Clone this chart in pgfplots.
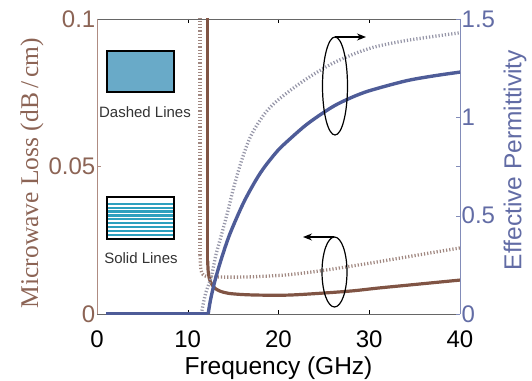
\documentclass[border=0pt]{standalone}
\usepackage{fontspec}
\setmainfont{Liberation Sans}
\newfontfamily\seriffont{Liberation Serif}
\usepackage{pgfplots}
\pgfplotsset{compat=1.18}
\usetikzlibrary{arrows.meta}

\definecolor{lossc}{RGB}{128,84,68}
\definecolor{losslab}{RGB}{140,100,85}
\definecolor{lossax}{RGB}{175,140,130}
\definecolor{permc}{RGB}{78,92,152}
\definecolor{permlab}{RGB}{98,108,165}
\definecolor{permax}{RGB}{130,140,185}
\definecolor{lossdot}{RGB}{160,135,128}
\definecolor{permdot}{RGB}{150,150,168}
\definecolor{boxfill}{RGB}{105,170,200}
\definecolor{stripe}{RGB}{45,160,190}

\begin{document}
\begin{tikzpicture}[x=1pt,y=1pt]
\pgfplotsset{
  common/.style={
    at={(97pt,66pt)}, anchor=south west,
    scale only axis, width=363pt, height=295pt,
    xmin=0, xmax=40,
    tick align=inside, major tick length=4pt,
    /pgf/number format/assume math mode=true,
    ticklabel style={font=\fontsize{24}{24}\selectfont},
    label style={font=\fontsize{24.5}{26}\selectfont},
  },
  dotsty/.style={line width=3.3pt, dash pattern=on 1.2pt off 2pt},
}
\begin{axis}[common,
  ymin=0, ymax=0.1,
  axis x line*=box, axis y line*=left,
  x axis line style={draw=gray!80!black, line width=0.9pt},
  y axis line style={draw=lossax, line width=0.9pt},
  xtick={0,10,20,30,40}, xticklabels={0,10,20,30,40},
  ytick={0,0.05,0.1}, yticklabels={0,0.05,0.1},
  xtick style={draw=black},
  ytick style={draw=lossax},
  yticklabel style={text=losslab, inner sep=1.5pt},
  xticklabel style={yshift=-13pt},
  xlabel={Frequency (GHz)},
  xlabel style={at={(axis description cs:0.5,-0.185)}, anchor=center},
]
\addplot[lossdot, dotsty] coordinates {(11.35,0.12) (11.35,0.02)};
\addplot[lossdot, dotsty, smooth, tension=0.5] coordinates {
 (11.35,0.02) (11.45,0.015) (11.7,0.0133) (12.3,0.0127)
 (14,0.0125) (17,0.0126) (21,0.0133) (25,0.0148) (30,0.0172) (35,0.0198) (40,0.0224)};
\addplot[lossc, line width=3.2pt] coordinates {(12.2,0.12) (12.2,0.018)};
\addplot[lossc, line width=3.2pt, smooth, tension=0.5] coordinates {
 (12.2,0.018) (12.25,0.0145) (12.4,0.0118) (12.7,0.0098) (13.0,0.0087)
 (13.6,0.0077) (14.5,0.0070) (16,0.0066) (18,0.0064) (21,0.0064) (24,0.0069)
 (28,0.0078) (31,0.0088) (34,0.0097) (37,0.0106) (40,0.0115)};
\end{axis}
\begin{axis}[common,
  ymin=0, ymax=1.5,
  axis x line=none, axis y line*=right,
  y axis line style={draw=permax, line width=0.9pt},
  ytick={0,0.5,1,1.5}, yticklabels={0,0.5,1,1.5},
  extra y ticks={0.75}, extra y tick labels={},
  ytick style={draw=permax},
  yticklabel style={text=permlab, inner sep=1.5pt},
]
\addplot[permdot, dotsty] coordinates {(1,0) (11.5,0)};
\addplot[permdot, dotsty, smooth, tension=0.5] coordinates {
 (11.5,0) (11.7,0.05) (12.0,0.11) (12.6,0.19) (13.1,0.3) (13.7,0.4)
 (14.4,0.52) (15.1,0.65) (16,0.79) (17,0.91) (18.5,1.02) (20,1.09) (22.9,1.19)
 (26.2,1.28) (30,1.35) (34,1.39) (40,1.43)};
\addplot[permc, line width=3.4pt] coordinates {(1,0) (12.25,0)};
\addplot[permc, line width=3.4pt, smooth, tension=0.5] coordinates {
 (12.25,0) (12.5,0.07) (13.0,0.17) (13.7,0.28) (14.5,0.39) (15.4,0.49)
 (16.3,0.58) (17.5,0.68) (18.5,0.75) (20,0.835) (21.5,0.9) (23,0.96) (24.5,1.01)
 (26.2,1.06) (28,1.10) (30,1.135) (34,1.185) (37,1.21) (40,1.23)};
\end{axis}
% axis titles
\node[rotate=90, anchor=center, text=losslab, font=\fontsize{25.5}{27}\selectfont\seriffont] at (32,207) {Microwave Loss (dB\,/\,cm)};
\node[rotate=90, anchor=center, text=permlab, font=\fontsize{24.5}{26}\selectfont] at (515,220) {Effective Permittivity};
% annotations
\draw[black, line width=1.2pt] (335,294) ellipse [x radius=12.5, y radius=49];
\draw[black, line width=1.2pt, -{Stealth[length=9pt,width=7pt]}] (335,343) -- (366,343);
\draw[black, line width=1.2pt] (334.5,108) ellipse [x radius=12.5, y radius=35];
\draw[black, line width=1.2pt, -{Stealth[length=9pt,width=7pt]}] (334,143) -- (303,143);
% key boxes
\draw[fill=boxfill, line width=2pt] (107,288) rectangle (174,329);
\node[font=\fontsize{15}{15}\selectfont, text=black!80] at (145,268) {Dashed Lines};
\fill[white] (107,141) rectangle (174,183);
\foreach \yy in {145,148.9,...,180} {\draw[stripe, line width=2.2pt] (107,\yy) -- (174,\yy);}
\draw[line width=2pt] (107,141) rectangle (174,183);
\node[font=\fontsize{15}{15}\selectfont, text=black!80] at (141,122) {Solid Lines};
\pgfresetboundingbox
\path[use as bounding box] (0,0) rectangle (532,380);
\end{tikzpicture}
\end{document}
